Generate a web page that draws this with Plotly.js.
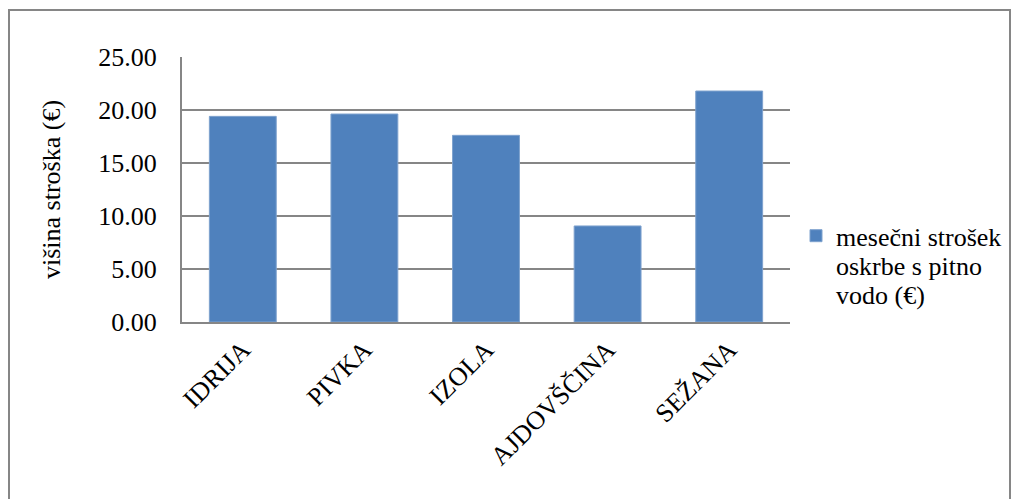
<!DOCTYPE html>
<html>
<head>
<meta charset="utf-8">
<script src="https://cdn.plot.ly/plotly-3.0.1.min.js"></script>
<style>html,body{margin:0;padding:0;background:#fff;}#chart{width:1021px;height:499px;}</style>
</head>
<body>
<div id="chart"></div>
<script>
const categories = ["IDRIJA", "PIVKA", "IZOLA", "AJDOVŠČINA", "SEŽANA"];
const values = [19.40, 19.62, 17.61, 9.06, 21.79];
const seriesName = "mesečni strošek<br>oskrbe s pitno<br>vodo (€)";
const yTitle = "višina stroška (€)";
const yTickVals = [0, 5, 10, 15, 20, 25];
const yTickText = ["0.00", "5.00", "10.00", "15.00", "20.00", "25.00"];

const fontFam = "Liberation Serif, Times New Roman, serif";

const trace = {
  type: "bar",
  x: categories,
  y: values,
  name: seriesName,
  showlegend: true,
  marker: { color: "#4F81BD", line: { color: "#7EA2CE", width: 1 } }
};

const layout = {
  width: 1021,
  height: 499,
  margin: { l: 182, r: 231, t: 57, b: 177 },
  paper_bgcolor: "#ffffff",
  plot_bgcolor: "#ffffff",
  font: { family: fontFam, color: "#000000", size: 26 },
  bargap: 0.45,
  xaxis: {
    type: "category",
    tickangle: -45,
    tickfont: { family: fontFam, size: 26, color: "#000" },
    showline: true,
    linecolor: "#868686",
    linewidth: 2,
    showgrid: false,
    ticks: "",
    automargin: false,
    fixedrange: true
  },
  yaxis: {
    range: [0, 25],
    tickvals: yTickVals,
    ticktext: yTickText,
    tickfont: { family: fontFam, size: 26, color: "#000" },
    showline: true,
    linecolor: "#868686",
    linewidth: 2,
    showgrid: true,
    gridcolor: "#868686",
    gridwidth: 2,
    zeroline: false,
    ticks: "",
    ticklabelstandoff: 18,
    automargin: false,
    title: { text: yTitle, font: { family: fontFam, size: 26, color: "#000" }, standoff: 30 },
    fixedrange: true
  },
  legend: {
    x: (796 - 182) / 608,
    xanchor: "left",
    y: 0.414,
    yanchor: "top",
    valign: "top",
    font: { family: fontFam, size: 26, color: "#000" },
    bgcolor: "rgba(0,0,0,0)",
    itemwidth: 30
  },
  shapes: [{
    type: "rect",
    xref: "paper", yref: "paper",
    x0: (9 - 182) / 608, x1: (1010 - 182) / 608,
    y0: -1.0, y1: (322 - 10) / 265,
    line: { color: "#868686", width: 2 },
    fillcolor: "rgba(0,0,0,0)",
    layer: "below"
  }]
};

Plotly.newPlot("chart", [trace], layout, { displayModeBar: false, staticPlot: true }).then(() => {
  // tighten legend line spacing to match the reference
  document.querySelectorAll('.legendtext tspan.line').forEach((t, i) => {
    t.setAttribute('dy', (i * 1.12).toFixed(2) + 'em');
  });
});
</script>
</body>
</html>
